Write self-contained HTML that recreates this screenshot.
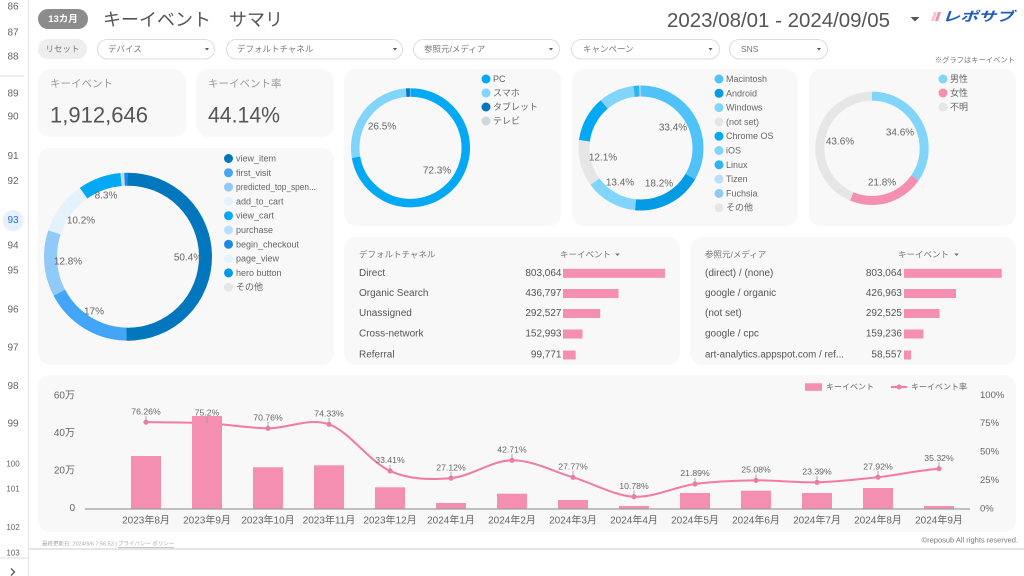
<!DOCTYPE html>
<html><head><meta charset="utf-8">
<style>
html,body{margin:0;padding:0;width:1024px;height:576px;overflow:hidden;background:#fff;}
svg{display:block;}
</style></head>
<body>
<svg width="1024" height="576" viewBox="0 0 1024 576" xmlns="http://www.w3.org/2000/svg" font-family="'Liberation Sans','Noto Sans CJK JP',sans-serif">
<rect width="1024" height="576" fill="#fff"/>

<!-- left ruler -->
<line x1="28.5" y1="0" x2="28.5" y2="576" stroke="#e3e3e3" stroke-width="1"/>
<line x1="0" y1="76" x2="24" y2="76" stroke="#dddddd" stroke-width="1"/>
<line x1="0" y1="558" x2="28" y2="558" stroke="#dddddd" stroke-width="1"/>
<circle cx="13" cy="220.5" r="10.5" fill="#e8f0fe"/>
<g font-size="10" fill="#666" text-anchor="middle" dominant-baseline="central">
<text x="13" y="7">86</text>
<text x="13" y="33">87</text>
<text x="13" y="57">88</text>
<text x="13" y="94">89</text>
<text x="13" y="117">90</text>
<text x="13" y="156.5">91</text>
<text x="13" y="181.5">92</text>
<text x="13" y="220.5" fill="#1a73e8">93</text>
<text x="13" y="246">94</text>
<text x="13" y="271">95</text>
<text x="13" y="310">96</text>
<text x="13" y="348">97</text>
<text x="13" y="386.5">98</text>
<text x="13" y="424">99</text>
<text x="13" y="464" font-size="8">100</text>
<text x="13" y="489" font-size="8">101</text>
<text x="13" y="527.5" font-size="8">102</text>
<text x="13" y="553" font-size="8">103</text>
</g>
<polyline points="11,568.5 14.5,572 11,575.5" fill="none" stroke="#555" stroke-width="1.3"/>

<!-- bottom separator -->
<rect x="28" y="548" width="996" height="2" fill="#e6e6e6"/>

<!-- header -->
<rect x="38" y="9" width="50" height="20" rx="10" fill="#8c8c8c"/>
<text x="63" y="19.5" font-size="9.5" font-weight="bold" fill="#fff" text-anchor="middle" dominant-baseline="central">13カ月</text>
<text x="103" y="20" font-size="18" fill="#555" dominant-baseline="central">キーイベント　サマリ</text>
<text x="890" y="20.5" font-size="20.5" fill="#555" text-anchor="end" dominant-baseline="central" textLength="223" lengthAdjust="spacingAndGlyphs">2023/08/01 - 2024/09/05</text>
<polygon points="910.5,17 919.5,17 915,21.5" fill="#555"/>
<!-- logo -->
<polygon points="931,21 934,21 937,12 934,12" fill="#f8c3d6"/>
<polygon points="935,21 938,21 941,12 938,12" fill="#f48fb1"/>
<text x="942" y="21" font-size="13" font-weight="bold" font-style="italic" fill="#1e5bc6" textLength="72" lengthAdjust="spacingAndGlyphs">レポサブ</text>

<!-- filter row -->
<rect x="38" y="39" width="49" height="20" rx="10" fill="#eeeeee"/>
<text x="62.5" y="49" font-size="8.5" fill="#777" text-anchor="middle" dominant-baseline="central">リセット</text>
<g fill="#fff" stroke="#dcdcdc" stroke-width="1">
<rect x="97.5" y="39.5" width="117" height="19.5" rx="9.75"/>
<rect x="226.5" y="39.5" width="176" height="19.5" rx="9.75"/>
<rect x="413.5" y="39.5" width="146" height="19.5" rx="9.75"/>
<rect x="571.5" y="39.5" width="148" height="19.5" rx="9.75"/>
<rect x="729.5" y="39.5" width="98" height="19.5" rx="9.75"/>
</g>
<g font-size="8.5" fill="#777" dominant-baseline="central">
<text x="108" y="49">デバイス</text>
<text x="237" y="49">デフォルトチャネル</text>
<text x="424" y="49">参照元/メディア</text>
<text x="583" y="49">キャンペーン</text>
<text x="741" y="49">SNS</text>
</g>
<g fill="#555">
<polygon points="205,48 209,48 207,50.5"/>
<polygon points="393,48 397,48 395,50.5"/>
<polygon points="549,48 553,48 551,50.5"/>
<polygon points="708.5,48 712.5,48 710.5,50.5"/>
<polygon points="817,48 821,48 819,50.5"/>
</g>
<text x="1015" y="60" font-size="7.3" fill="#777" text-anchor="end" dominant-baseline="central">※グラフはキーイベント</text>

<!-- cards -->
<g fill="#f8f8f8">
<rect x="38" y="69" width="148" height="68" rx="12"/>
<rect x="196" y="69" width="138" height="68" rx="12"/>
<rect x="344" y="69" width="217" height="157" rx="12"/>
<rect x="572" y="69" width="226" height="157" rx="12"/>
<rect x="809" y="69" width="207" height="157" rx="12"/>
<rect x="38" y="148" width="296" height="217" rx="12"/>
<rect x="344" y="237" width="336" height="128" rx="12"/>
<rect x="690" y="237" width="326" height="128" rx="12"/>
<rect x="38" y="375" width="978" height="157" rx="12"/>
</g>

<!-- KPI -->
<text x="50" y="84" font-size="10.5" fill="#999" dominant-baseline="central">キーイベント</text>
<text x="50" y="115" font-size="22.5" fill="#555" dominant-baseline="central" textLength="98" lengthAdjust="spacingAndGlyphs">1,912,646</text>
<text x="208" y="84" font-size="10.5" fill="#999" dominant-baseline="central">キーイベント率</text>
<text x="208" y="115" font-size="22.5" fill="#555" dominant-baseline="central" textLength="72" lengthAdjust="spacingAndGlyphs">44.14%</text>

<!-- device donut -->
<g transform="rotate(-90 410.5 147.8)" fill="none" stroke-width="8.5">
<circle cx="410.5" cy="147.8" r="55.3" pathLength="100" stroke="#03a9f4" stroke-dasharray="72.3 27.7" stroke-dashoffset="0"/>
<circle cx="410.5" cy="147.8" r="55.3" pathLength="100" stroke="#81d4fa" stroke-dasharray="26.5 73.5" stroke-dashoffset="-72.3"/>
<circle cx="410.5" cy="147.8" r="55.3" pathLength="100" stroke="#0277bd" stroke-dasharray="1.1 98.9" stroke-dashoffset="-98.8"/>
<circle cx="410.5" cy="147.8" r="55.3" pathLength="100" stroke="#cfd8dc" stroke-dasharray="0.1 99.9" stroke-dashoffset="-99.9"/>
</g>
<g font-size="10" fill="#666" text-anchor="middle" dominant-baseline="central">
<text x="382" y="127">26.5%</text>
<text x="437" y="171">72.3%</text>
</g>
<g>
<circle cx="486" cy="79" r="4.5" fill="#03a9f4"/>
<circle cx="486" cy="93" r="4.5" fill="#81d4fa"/>
<circle cx="486" cy="107" r="4.5" fill="#0277bd"/>
<circle cx="486" cy="121" r="4.5" fill="#cfd8dc"/>
</g>
<g font-size="9" fill="#666" dominant-baseline="central">
<text x="493" y="79">PC</text>
<text x="493" y="93">スマホ</text>
<text x="493" y="107">タブレット</text>
<text x="493" y="121">テレビ</text>
</g>

<!-- OS donut -->
<g transform="rotate(-90 641 148)" fill="none" stroke-width="11">
<circle cx="641" cy="148" r="57" pathLength="100" stroke="#4fc3f7" stroke-dasharray="33.4 66.6" stroke-dashoffset="0"/>
<circle cx="641" cy="148" r="57" pathLength="100" stroke="#039be5" stroke-dasharray="18.2 81.8" stroke-dashoffset="-33.4"/>
<circle cx="641" cy="148" r="57" pathLength="100" stroke="#81d4fa" stroke-dasharray="13.4 86.6" stroke-dashoffset="-51.6"/>
<circle cx="641" cy="148" r="57" pathLength="100" stroke="#e6e6e6" stroke-dasharray="12.1 87.9" stroke-dashoffset="-65"/>
<circle cx="641" cy="148" r="57" pathLength="100" stroke="#03a9f4" stroke-dasharray="11.8 88.2" stroke-dashoffset="-77.1"/>
<circle cx="641" cy="148" r="57" pathLength="100" stroke="#81d4fa" stroke-dasharray="9.2 90.8" stroke-dashoffset="-88.9"/>
<circle cx="641" cy="148" r="57" pathLength="100" stroke="#29b6f6" stroke-dasharray="1.5 98.5" stroke-dashoffset="-98.1"/>
<circle cx="641" cy="148" r="57" pathLength="100" stroke="#bbdefb" stroke-dasharray="0.2 99.8" stroke-dashoffset="-99.6"/>
<circle cx="641" cy="148" r="57" pathLength="100" stroke="#90caf9" stroke-dasharray="0.2 99.8" stroke-dashoffset="-99.8"/>
</g>
<g font-size="10" fill="#666" text-anchor="middle" dominant-baseline="central">
<text x="673" y="128">33.4%</text>
<text x="603" y="158">12.1%</text>
<text x="620" y="183">13.4%</text>
<text x="659" y="184">18.2%</text>
</g>
<g>
<circle cx="719" cy="79" r="4.5" fill="#4fc3f7"/>
<circle cx="719" cy="93.3" r="4.5" fill="#039be5"/>
<circle cx="719" cy="107.6" r="4.5" fill="#81d4fa"/>
<circle cx="719" cy="121.9" r="4.5" fill="#e6e6e6"/>
<circle cx="719" cy="136.2" r="4.5" fill="#03a9f4"/>
<circle cx="719" cy="150.5" r="4.5" fill="#81d4fa"/>
<circle cx="719" cy="164.8" r="4.5" fill="#29b6f6"/>
<circle cx="719" cy="179.1" r="4.5" fill="#bbdefb"/>
<circle cx="719" cy="193.4" r="4.5" fill="#90caf9"/>
<circle cx="719" cy="207.7" r="4.5" fill="#e6e6e6"/>
</g>
<g font-size="9" fill="#666" dominant-baseline="central">
<text x="726" y="79">Macintosh</text>
<text x="726" y="93.3">Android</text>
<text x="726" y="107.6">Windows</text>
<text x="726" y="121.9">(not set)</text>
<text x="726" y="136.2">Chrome OS</text>
<text x="726" y="150.5">iOS</text>
<text x="726" y="164.8">Linux</text>
<text x="726" y="179.1">Tizen</text>
<text x="726" y="193.4">Fuchsia</text>
<text x="726" y="207.7">その他</text>
</g>

<!-- gender donut -->
<g transform="rotate(-90 872 148.3)" fill="none" stroke-width="9">
<circle cx="872" cy="148.3" r="52.2" pathLength="100" stroke="#81d4fa" stroke-dasharray="34.6 65.4" stroke-dashoffset="0"/>
<circle cx="872" cy="148.3" r="52.2" pathLength="100" stroke="#f48fb1" stroke-dasharray="21.8 78.2" stroke-dashoffset="-34.6"/>
<circle cx="872" cy="148.3" r="52.2" pathLength="100" stroke="#e6e6e6" stroke-dasharray="43.6 56.4" stroke-dashoffset="-56.4"/>
</g>
<g font-size="10" fill="#666" text-anchor="middle" dominant-baseline="central">
<text x="900" y="133">34.6%</text>
<text x="840" y="142">43.6%</text>
<text x="882" y="183">21.8%</text>
</g>
<circle cx="943" cy="79" r="4.5" fill="#81d4fa"/>
<circle cx="943" cy="93" r="4.5" fill="#f48fb1"/>
<circle cx="943" cy="107" r="4.5" fill="#e6e6e6"/>
<g font-size="9" fill="#666" dominant-baseline="central">
<text x="950" y="79">男性</text>
<text x="950" y="93">女性</text>
<text x="950" y="107">不明</text>
</g>

<!-- event donut -->
<g transform="rotate(-90 128 256.7)" fill="none" stroke-width="13">
<circle cx="128" cy="256.7" r="77.5" pathLength="100" stroke="#0277bd" stroke-dasharray="50.4 49.6" stroke-dashoffset="0"/>
<circle cx="128" cy="256.7" r="77.5" pathLength="100" stroke="#42a5f5" stroke-dasharray="17 83" stroke-dashoffset="-50.4"/>
<circle cx="128" cy="256.7" r="77.5" pathLength="100" stroke="#90caf9" stroke-dasharray="12.8 87.2" stroke-dashoffset="-67.4"/>
<circle cx="128" cy="256.7" r="77.5" pathLength="100" stroke="#e3f2fd" stroke-dasharray="10.2 89.8" stroke-dashoffset="-80.2"/>
<circle cx="128" cy="256.7" r="77.5" pathLength="100" stroke="#03a9f4" stroke-dasharray="8.3 91.7" stroke-dashoffset="-90.4"/>
<circle cx="128" cy="256.7" r="77.5" pathLength="100" stroke="#bbdefb" stroke-dasharray="0.7 99.3" stroke-dashoffset="-98.7"/>
<circle cx="128" cy="256.7" r="77.5" pathLength="100" stroke="#1e88e5" stroke-dasharray="0.6 99.4" stroke-dashoffset="-99.4"/>
</g>
<g font-size="10" fill="#666" text-anchor="middle" dominant-baseline="central">
<text x="188" y="258">50.4%</text>
<text x="94" y="312">17%</text>
<text x="68" y="262">12.8%</text>
<text x="81" y="221">10.2%</text>
<text x="106" y="196">8.3%</text>
</g>
<g>
<circle cx="228.5" cy="158.5" r="4.5" fill="#0277bd"/>
<circle cx="228.5" cy="172.8" r="4.5" fill="#42a5f5"/>
<circle cx="228.5" cy="187.1" r="4.5" fill="#90caf9"/>
<circle cx="228.5" cy="201.4" r="4.5" fill="#e3f2fd"/>
<circle cx="228.5" cy="215.7" r="4.5" fill="#03a9f4"/>
<circle cx="228.5" cy="230" r="4.5" fill="#bbdefb"/>
<circle cx="228.5" cy="244.3" r="4.5" fill="#1e88e5"/>
<circle cx="228.5" cy="258.6" r="4.5" fill="#e3f2fd"/>
<circle cx="228.5" cy="272.9" r="4.5" fill="#039be5"/>
<circle cx="228.5" cy="287.2" r="4.5" fill="#e6e6e6"/>
</g>
<g font-size="9" fill="#666" dominant-baseline="central">
<text x="236" y="158.5">view_item</text>
<text x="236" y="172.8">first_visit</text>
<text x="236" y="187.1" textLength="80" lengthAdjust="spacingAndGlyphs">predicted_top_spen...</text>
<text x="236" y="201.4">add_to_cart</text>
<text x="236" y="215.7">view_cart</text>
<text x="236" y="230">purchase</text>
<text x="236" y="244.3">begin_checkout</text>
<text x="236" y="258.6">page_view</text>
<text x="236" y="272.9">hero button</text>
<text x="236" y="287.2">その他</text>
</g>

<!-- channel table -->
<g font-size="8.5" fill="#777" dominant-baseline="central">
<text x="359" y="254.5">デフォルトチャネル</text>
<text x="560" y="254.5">キーイベント</text>
<text x="705" y="254.5">参照元/メディア</text>
<text x="898" y="254.5">キーイベント</text>
</g>
<polygon points="615,253.5 620,253.5 617.5,256" fill="#777"/>
<polygon points="954,253.5 959,253.5 956.5,256" fill="#777"/>
<g font-size="10" fill="#555" dominant-baseline="central">
<text x="359" y="273.3">Direct</text>
<text x="359" y="293.5">Organic Search</text>
<text x="359" y="313.5">Unassigned</text>
<text x="359" y="334">Cross-network</text>
<text x="359" y="355">Referral</text>
<text x="705" y="273.3">(direct) / (none)</text>
<text x="705" y="293.5">google / organic</text>
<text x="705" y="313.5">(not set)</text>
<text x="705" y="334">google / cpc</text>
<text x="705" y="355" textLength="139" lengthAdjust="spacingAndGlyphs">art-analytics.appspot.com / ref...</text>
</g>
<g font-size="10" fill="#555" dominant-baseline="central" text-anchor="end">
<text x="561.5" y="273.3">803,064</text>
<text x="561.5" y="293.5">436,797</text>
<text x="561.5" y="313.5">292,527</text>
<text x="561.5" y="334">152,993</text>
<text x="561.5" y="355">99,771</text>
<text x="902" y="273.3">803,064</text>
<text x="902" y="293.5">426,963</text>
<text x="902" y="313.5">292,525</text>
<text x="902" y="334">159,236</text>
<text x="902" y="355">58,557</text>
</g>
<g fill="#f48fb1">
<rect x="563" y="268.8" width="102" height="9"/>
<rect x="563" y="289" width="55.5" height="9"/>
<rect x="563" y="309" width="37.2" height="9"/>
<rect x="563" y="329.5" width="19.5" height="9"/>
<rect x="563" y="350.5" width="12.7" height="9"/>
<rect x="904" y="268.8" width="97.7" height="9"/>
<rect x="904" y="289" width="52" height="9"/>
<rect x="904" y="309" width="35.6" height="9"/>
<rect x="904" y="329.5" width="19.4" height="9"/>
<rect x="904" y="350.5" width="7.1" height="9"/>
</g>

<!-- bottom chart -->
<g font-size="10" fill="#666" text-anchor="end" dominant-baseline="central">
<text x="75" y="396">60万</text>
<text x="75" y="433.5">40万</text>
<text x="75" y="471">20万</text>
<text x="75" y="508.5">0</text>
</g>
<g font-size="9.5" fill="#666" dominant-baseline="central">
<text x="980" y="395.5">100%</text>
<text x="980" y="423.5">75%</text>
<text x="980" y="452">50%</text>
<text x="980" y="480.5">25%</text>
<text x="980" y="509">0%</text>
</g>
<!-- line (under bars) -->
<path d="M146,422.1 C166.3,422.3 186.7,422.27 207,423.3 C227.3,424.33 247.7,428.13 268,428.3 C288.3,428.47 308.7,417.2 329,424.3 C349.3,431.4 369.7,461.93 390,470.9 C410.3,479.87 430.7,479.87 451,478.1 C471.3,476.33 491.7,460.43 512,460.3 C532.3,460.17 552.7,471.23 573,477.3 C593.3,483.37 613.7,495.58 634,496.7 C654.3,497.82 674.7,486.72 695,484 C715.3,481.28 735.7,480.68 756,480.4 C776.3,480.12 796.7,482.83 817,482.3 C837.3,481.77 857.7,479.47 878,477.2 C898.3,474.93 918.7,470.12 939,468.7" fill="none" stroke="#f27aa5" stroke-width="2"/>
<g fill="#f27aa5">
<circle cx="146" cy="422.1" r="2.6"/><circle cx="207" cy="423.3" r="2.6"/><circle cx="268" cy="428.3" r="2.6"/><circle cx="329" cy="424.3" r="2.6"/><circle cx="390" cy="470.9" r="2.6"/><circle cx="451" cy="478.1" r="2.6"/><circle cx="512" cy="460.3" r="2.6"/><circle cx="573" cy="477.3" r="2.6"/><circle cx="634" cy="496.7" r="2.6"/><circle cx="695" cy="484" r="2.6"/><circle cx="756" cy="480.4" r="2.6"/><circle cx="817" cy="482.3" r="2.6"/><circle cx="878" cy="477.2" r="2.6"/><circle cx="939" cy="468.7" r="2.6"/>
</g>
<!-- bars -->
<g fill="#f48fb1">
<rect x="131" y="456" width="30" height="53"/>
<rect x="192" y="416" width="30" height="93"/>
<rect x="253" y="467.3" width="30" height="41.7"/>
<rect x="314" y="465.3" width="30" height="43.7"/>
<rect x="375" y="487.3" width="30" height="21.7"/>
<rect x="436" y="503" width="30" height="6"/>
<rect x="497" y="493.7" width="30" height="15.3"/>
<rect x="558" y="500" width="30" height="9"/>
<rect x="619" y="506" width="30" height="3"/>
<rect x="680" y="493" width="30" height="16"/>
<rect x="741" y="490.7" width="30" height="18.3"/>
<rect x="802" y="493" width="30" height="16"/>
<rect x="863" y="488" width="30" height="21"/>
<rect x="924" y="506" width="30" height="3"/>
</g>
<line x1="85" y1="509" x2="970" y2="509" stroke="#9e9e9e" stroke-width="1.3"/>
<!-- leader lines -->
<g stroke="#999" stroke-width="0.8">
<line x1="146" y1="416" x2="146" y2="422"/><line x1="207" y1="417" x2="207" y2="423"/><line x1="268" y1="422" x2="268" y2="428"/><line x1="329" y1="418" x2="329" y2="424"/><line x1="390" y1="465" x2="390" y2="471"/><line x1="451" y1="472" x2="451" y2="478"/><line x1="512" y1="454" x2="512" y2="460"/><line x1="573" y1="471" x2="573" y2="477"/><line x1="634" y1="490.5" x2="634" y2="496.5"/><line x1="695" y1="478" x2="695" y2="484"/><line x1="756" y1="474.5" x2="756" y2="480.5"/><line x1="817" y1="476" x2="817" y2="482"/><line x1="878" y1="471" x2="878" y2="477"/><line x1="939" y1="462.5" x2="939" y2="468.5"/>
</g>
<g font-size="8.7" fill="#666" text-anchor="middle">
<text x="146" y="414.3">76.26%</text>
<text x="207" y="415.5">75.2%</text>
<text x="268" y="420.5">70.76%</text>
<text x="329" y="416.5">74.33%</text>
<text x="390" y="463">33.41%</text>
<text x="451" y="470.3">27.12%</text>
<text x="512" y="452.5">42.71%</text>
<text x="573" y="469.5">27.77%</text>
<text x="634" y="489">10.78%</text>
<text x="695" y="476.2">21.89%</text>
<text x="756" y="472.6">25.08%</text>
<text x="817" y="474.5">23.39%</text>
<text x="878" y="469.4">27.92%</text>
<text x="939" y="461">35.32%</text>
</g>
<g font-size="10" fill="#666" text-anchor="middle" dominant-baseline="central">
<text x="146" y="521">2023年8月</text>
<text x="207" y="521">2023年9月</text>
<text x="268" y="521">2023年10月</text>
<text x="329" y="521">2023年11月</text>
<text x="390" y="521">2023年12月</text>
<text x="451" y="521">2024年1月</text>
<text x="512" y="521">2024年2月</text>
<text x="573" y="521">2024年3月</text>
<text x="634" y="521">2024年4月</text>
<text x="695" y="521">2024年5月</text>
<text x="756" y="521">2024年6月</text>
<text x="817" y="521">2024年7月</text>
<text x="878" y="521">2024年8月</text>
<text x="939" y="521">2024年9月</text>
</g>
<!-- chart legend -->
<rect x="805" y="383.3" width="17" height="7.5" fill="#f48fb1"/>
<text x="826" y="387" font-size="8" fill="#666" dominant-baseline="central">キーイベント</text>
<line x1="891" y1="387" x2="907" y2="387" stroke="#f27aa5" stroke-width="2"/>
<circle cx="899" cy="387" r="2.5" fill="#f27aa5"/>
<text x="911" y="387" font-size="8" fill="#666" dominant-baseline="central">キーイベント率</text>

<!-- footer -->
<text x="42" y="544.5" font-size="5.5" fill="#aaa" dominant-baseline="central">最終更新日: 2024/9/6 7:56:53 |</text>
<text x="118" y="544.5" font-size="5.5" fill="#aaa" dominant-baseline="central" text-decoration="underline">プライバシー ポリシー</text>
<line x1="118" y1="547.5" x2="172" y2="547.5" stroke="#bbb" stroke-width="0.5"/>
<text x="1018" y="540" font-size="7.5" fill="#777" text-anchor="end" dominant-baseline="central">©reposub All rights reserved.</text>
</svg>
</body></html>
